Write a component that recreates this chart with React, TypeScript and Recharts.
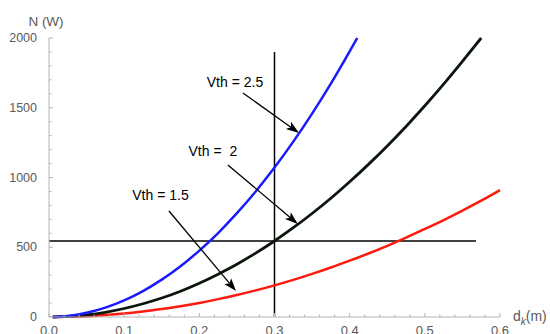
import React from 'react';
import { LineChart, Line, XAxis, YAxis, ReferenceLine, ReferenceDot } from 'recharts';

// d_k (m) sample points and N (W) values
const blueDk = [0.005, 0.025, 0.05, 0.075, 0.1, 0.125, 0.15, 0.175, 0.2, 0.225, 0.25, 0.275, 0.3, 0.325, 0.35, 0.375, 0.4, 0.41];
const blueN = [0, 7, 30, 67, 119, 186, 268, 364, 476, 602, 744, 900, 1071, 1257, 1458, 1673, 1904, 2000];

const blackDk = [0.005, 0.025, 0.05, 0.075, 0.1, 0.125, 0.15, 0.175, 0.2, 0.225, 0.25, 0.275, 0.3, 0.325, 0.35, 0.375, 0.4, 0.425, 0.45, 0.475, 0.5, 0.525, 0.55, 0.575];
const blackN = [0, 4, 15, 34, 61, 95, 136, 185, 242, 307, 378, 458, 545, 640, 742, 851, 969, 1094, 1226, 1366, 1514, 1669, 1832, 2000];

const redDk = [0.005, 0.025, 0.05, 0.075, 0.1, 0.125, 0.15, 0.175, 0.2, 0.225, 0.25, 0.275, 0.3, 0.325, 0.35, 0.375, 0.4, 0.425, 0.45, 0.475, 0.5, 0.525, 0.55, 0.575, 0.6];
const redN = [0, 2, 6, 14, 25, 39, 57, 77, 101, 128, 158, 191, 227, 266, 309, 355, 404, 455, 510, 569, 631, 695, 763, 834, 910];

const xTicks = [0, 0.02, 0.04, 0.06, 0.08, 0.1, 0.12, 0.14, 0.16, 0.18, 0.2, 0.22, 0.24, 0.26, 0.28, 0.3, 0.32, 0.34, 0.36, 0.38, 0.4, 0.42, 0.44, 0.46, 0.48, 0.5, 0.52, 0.54, 0.56, 0.58, 0.6];
const yTicks = [0, 100, 200, 300, 400, 500, 600, 700, 800, 900, 1000, 1100, 1200, 1300, 1400, 1500, 1600, 1700, 1800, 1900, 2000];

// guide lines
const hLine = { y: 545, x0: 0, x1: 0.568 };
const vLine = { x: 0.3, y0: 0, y1: 1900 };

// annotations: label, label centre, arrow start, arrow tip (data coordinates)
const labels = ['Vth = 2.5', 'Vth =\u00a0 2', 'Vth = 1.5'];
const labelDk = [0.2474, 0.218, 0.1483];
const labelN = [1685, 1190, 875];
const arrowFromDk = [0.258, 0.238, 0.1596];
const arrowFromN = [1606, 1090, 760];
const arrowToDk = [0.3326, 0.331, 0.2488];
const arrowToN = [1319, 667, 186];

const toData = (xs: number[], ys: number[]) => xs.map((x, i) => ({ dk: x, n: ys[i] }));

const PLOT_LEFT = 49;
const PLOT_BOTTOM = 317;
const AXIS_COLOR = '#b3b3b3';
const LABEL_COLOR = '#5a5a5a';
const FONT = '"Liberation Sans", Arial, sans-serif';

const XTick = (props: any) => {
  const v = props.payload.value;
  const major = Math.abs(v * 10 - Math.round(v * 10)) < 1e-6;
  const x = props.x;
  return (
    <g>
      <line x1={x} x2={x} y1={PLOT_BOTTOM} y2={PLOT_BOTTOM - (major ? 4 : 2.5)} stroke={AXIS_COLOR} strokeWidth={1} />
      {major && (
        <text x={x} y={PLOT_BOTTOM + 18} textAnchor="middle" fontFamily={FONT} fontSize={13} fill={LABEL_COLOR}>
          {v.toFixed(1)}
        </text>
      )}
    </g>
  );
};

const YTick = (props: any) => {
  const v = props.payload.value;
  const major = v % 500 === 0;
  const y = props.y;
  return (
    <g>
      <line x1={PLOT_LEFT} x2={PLOT_LEFT + (major ? 4 : 2.5)} y1={y} y2={y} stroke={AXIS_COLOR} strokeWidth={1} />
      {major && (
        <text x={PLOT_LEFT - 12} y={y} textAnchor="end" dominantBaseline="central" fontFamily={FONT} fontSize={12.5} fill={LABEL_COLOR}>
          {v}
        </text>
      )}
    </g>
  );
};

const Arrow = (props: any) => {
  const { x1, y1, x2, y2 } = props;
  const dx = x2 - x1;
  const dy = y2 - y1;
  const len = Math.hypot(dx, dy) || 1;
  const ux = dx / len;
  const uy = dy / len;
  const hl = 13;
  const hw = 4.5;
  const bx = x2 - ux * hl;
  const by = y2 - uy * hl;
  const px = -uy;
  const py = ux;
  const nx = bx + ux * 3;
  const ny = by + uy * 3;
  return (
    <g>
      <line x1={x1} y1={y1} x2={nx} y2={ny} stroke="#000" strokeWidth={1.3} />
      <polygon
        points={`${x2},${y2} ${bx + px * hw},${by + py * hw} ${nx},${ny} ${bx - px * hw},${by - py * hw}`}
        fill="#000"
      />
    </g>
  );
};

const makeText = (label: string) => (props: any) => (
  <text x={props.cx} y={props.cy} textAnchor="middle" dominantBaseline="central" fontFamily={FONT} fontSize={14} fill="#000">
    {label}
  </text>
);

export default function App() {
  return (
    <div style={{ position: 'absolute', left: 0, top: 0, width: 550, height: 334, background: '#fff' }}>
      <LineChart width={550} height={334} margin={{ top: 38, right: 50, left: 9, bottom: 0 }}>
        <XAxis
          type="number"
          dataKey="dk"
          domain={[0, 0.6]}
          ticks={xTicks}
          interval={0}
          height={17}
          stroke={AXIS_COLOR}
          tickLine={false}
          tick={<XTick />}
          label={{
            content: () => (
              <text x={513} y={321} fontFamily={FONT} fontSize={14} fill={LABEL_COLOR}>
                <tspan>d</tspan>
                <tspan fontStyle="italic" fontSize={10} dy={4}>k</tspan>
                <tspan dy={-4}>(m)</tspan>
              </text>
            ),
          }}
        />
        <YAxis
          type="number"
          domain={[0, 2000]}
          ticks={yTicks}
          interval={0}
          width={40}
          stroke={AXIS_COLOR}
          tickLine={false}
          tick={<YTick />}
          label={{
            content: () => (
              <text x={46} y={26} textAnchor="middle" fontFamily={FONT} fontSize={13.5} fill={LABEL_COLOR}>
                N (W)
              </text>
            ),
          }}
        />
        <ReferenceLine
          segment={[{ x: hLine.x0, y: hLine.y }, { x: hLine.x1, y: hLine.y }]}
          stroke="#000"
          strokeWidth={1.5}
        />
        <ReferenceLine
          segment={[{ x: vLine.x, y: vLine.y0 }, { x: vLine.x, y: vLine.y1 }]}
          stroke="#000"
          strokeWidth={1.5}
        />
        <Line data={toData(redDk, redN)} dataKey="n" type="monotone" stroke="#ff1a0d" strokeWidth={2.5} dot={false} isAnimationActive={false} />
        <Line data={toData(blackDk, blackN)} dataKey="n" type="monotone" stroke="#0b160b" strokeWidth={2.8} dot={false} isAnimationActive={false} />
        <Line data={toData(blueDk, blueN)} dataKey="n" type="monotone" stroke="#1a1aff" strokeWidth={2.5} dot={false} isAnimationActive={false} />
        {labels.map((l, i) => (
          <ReferenceLine
            key={'a' + i}
            segment={[{ x: arrowFromDk[i], y: arrowFromN[i] }, { x: arrowToDk[i], y: arrowToN[i] }]}
            shape={Arrow}
          />
        ))}
        {labels.map((l, i) => (
          <ReferenceDot key={'t' + i} x={labelDk[i]} y={labelN[i]} r={0} shape={makeText(l)} />
        ))}
      </LineChart>
    </div>
  );
}
